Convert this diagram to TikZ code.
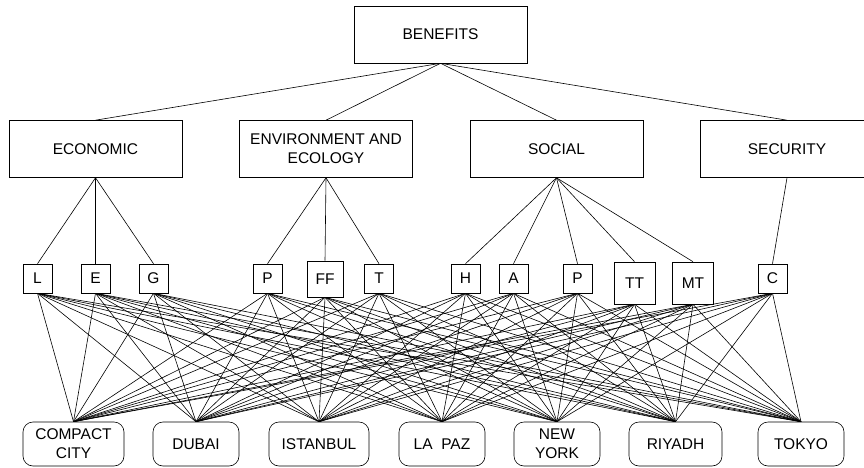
\documentclass[tikz,border=0pt]{standalone}
\usepackage{fontspec}
\setmainfont{Liberation Sans}
\begin{document}
\begin{tikzpicture}
  [x=1pt,y=-1pt,line width=0.6pt,
   font=\fontsize{15.5}{19}\selectfont,
   box/.style={draw,minimum width=173pt,minimum height=57pt,align=center,inner sep=1pt},
   crit/.style={draw,minimum width=29pt,minimum height=29pt,inner sep=1pt},
   bigcrit/.style={draw,minimum width=41pt,minimum height=42pt,inner sep=1pt},
   alt/.style={draw,rounded corners=10pt,minimum height=44pt,align=center,inner sep=1pt}]
  \useasboundingbox (0,0) rectangle (864,468);

  % goal
  \node[box] (B) at (440.5,34.5) {BENEFITS};

  % categories
  \node[box] (EC) at (95.5,149) {ECONOMIC};
  \node[box] (EN) at (326,149) {ENVIRONMENT AND\\ECOLOGY};
  \node[box] (SO) at (556.5,149) {SOCIAL};
  \node[box] (SE) at (787,149) {SECURITY};

  % criteria
  \node[crit] (L) at (37.5,278.5) {L};
  \node[crit] (E) at (95.5,278.5) {E};
  \node[crit] (G) at (153.5,278.5) {G};
  \node[crit] (P) at (267.5,278.5) {P};
  \node[crit,minimum width=36pt,minimum height=36pt] (FF) at (325,279) {FF};
  \node[crit] (T) at (379,278.5) {T};
  \node[crit] (H) at (465.5,278.5) {H};
  \node[crit] (A) at (513.5,278.5) {A};
  \node[crit] (PP) at (577.5,278.5) {P};
  \node[bigcrit] (TT) at (634.5,283) {TT};
  \node[bigcrit] (MT) at (693,283) {MT};
  \node[crit] (C) at (772.5,278.5) {C};

  % alternatives
  \node[alt,minimum width=101pt] (cc) at (73.5,444) {COMPACT\\CITY};
  \node[alt,minimum width=86pt] (du) at (196,444) {DUBAI};
  \node[alt,minimum width=100pt] (is) at (319,444) {ISTANBUL};
  \node[alt,minimum width=86pt] (lp) at (442,444) {LA~~PAZ};
  \node[alt,minimum width=86pt] (ny) at (557,444) {NEW\\YORK};
  \node[alt,minimum width=93pt] (ri) at (675.5,444) {RIYADH};
  \node[alt,minimum width=86pt] (to) at (801,444) {TOKYO};

  % hierarchy
  \foreach \c in {EC,EN,SO,SE}
    \draw (B.south) -- (\c.north);
  \foreach \k in {L,E,G}
    \draw (EC.south) -- (\k.north);
  \foreach \k in {P,FF,T}
    \draw (EN.south) -- (\k.north);
  \foreach \k in {H,A,PP,TT,MT}
    \draw (SO.south) -- (\k.north);
  \draw (SE.south) -- (C.north);

  % every criterion to every alternative
  \foreach \k in {L,E,G,P,FF,T,H,A,PP,TT,MT,C}
    \foreach \a in {cc,du,is,lp,ny,ri,to}
      \draw (\k.south) -- (\a.north);
\end{tikzpicture}
\end{document}
